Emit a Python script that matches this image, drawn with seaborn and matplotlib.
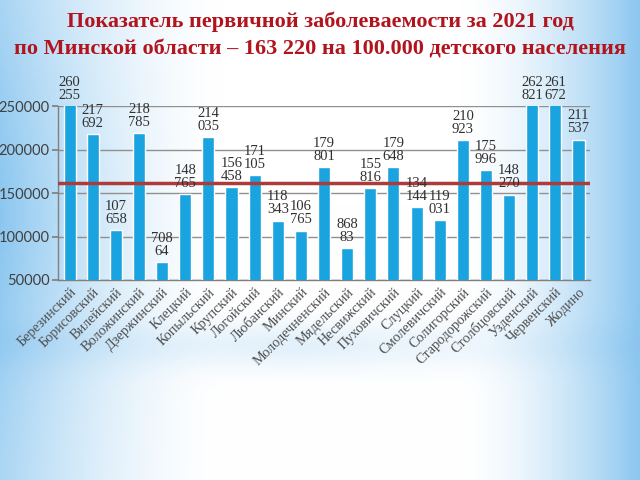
import numpy as np
import pandas as pd
import matplotlib
matplotlib.use("Agg")
import matplotlib.pyplot as plt
import seaborn as sns

districts = ["Березинский", "Борисовский", "Вилейский", "Воложинский", "Дзержинский",
             "Клецкий", "Копыльский", "Крупский", "Логойский", "Любанский", "Минский",
             "Молодечненский", "Мядельский", "Несвижский", "Пуховичский", "Слуцкий",
             "Смолевичский", "Солигорский", "Стародорожский", "Столбцовский",
             "Узденский", "Червенский", "Жодино"]
values = [260255, 217692, 107658, 218785, 70864, 148765, 214035, 156458, 171105,
          118343, 106765, 179801, 86883, 155816, 179648, 134144, 119031, 210923,
          175996, 148270, 262821, 261672, 211537]
value_labels = ["260\n255", "217\n692", "107\n658", "218\n785", "708\n64", "148\n765",
                "214\n035", "156\n458", "171\n105", "118\n343", "106\n765", "179\n801",
                "868\n83", "155\n816", "179\n648", "134\n144", "119\n031", "210\n923",
                "175\n996", "148\n270", "262\n821", "261\n672", "211\n537"]
reference_level = 161000
y_ticks = [50000, 100000, 150000, 200000, 250000]
title = ("Показатель первичной заболеваемости за 2021 год\n"
         "по Минской области – 163 220 на 100.000 детского населения")

df = pd.DataFrame({"district": districts, "value": values})

sns.set_theme(style="white")
fig = plt.figure(figsize=(6.4, 4.8), dpi=100)

# background gradient
bg = fig.add_axes([0, 0, 1, 1], zorder=-10)
xx = np.linspace(0, 1, 320)
yy = np.linspace(0, 1, 240)
X, Y = np.meshgrid(xx, yy)
left = np.clip(1 - X / 0.35, 0, 1) ** 1.6 * (0.7 + 0.3 * np.exp(-((Y - 0.45) / 0.35) ** 2))
right = np.clip((X - 0.72) / 0.28, 0, 1) ** 1.6
band = np.exp(-((Y - 0.72) / 0.05) ** 2) * 0.25 * np.clip(1 - np.abs(X - 0.45) * 1.5, 0, 1)
t = np.clip(left + right + band, 0, 1)
c_white = np.array([1.0, 1.0, 1.0])
c_blue = np.array([0.55, 0.78, 0.94])
img = c_white[None, None, :] * (1 - t[..., None]) + c_blue[None, None, :] * t[..., None]
bg.imshow(img, aspect="auto", extent=[0, 1, 0, 1], origin="upper")
bg.axis("off")

ax = fig.add_axes([0.0906, 0.4167, 0.8314, 0.3623])
ax.set_facecolor("none")
sns.barplot(data=df, x="district", y="value", color="#19a3df", saturation=1,
            width=0.52, ax=ax, zorder=3)
ax.set_ylim(50000, 250000)
ax.set_xlim(-0.5, len(districts) - 0.5)
ax.set_yticks(y_ticks)
ax.set_yticklabels([str(v) for v in y_ticks], fontsize=10.5, color="#404040",
                   family="Lato")
ax.yaxis.grid(True, color="#909090", linewidth=1, zorder=0)
ax.set_axisbelow(True)
ax.axhline(reference_level, color="#ac3b3b", linewidth=2.5, zorder=4)

for i, (v, lab) in enumerate(zip(values, value_labels)):
    ax.annotate(lab, (i, min(v, 250000)), xytext=(0, 3), textcoords="offset points",
                ha="center", va="bottom", fontsize=10.5, color="#303030",
                family="Liberation Serif", linespacing=1.0, annotation_clip=False,
                zorder=5)

ax.set_xticks(range(len(districts)))
ax.set_xticklabels(districts, rotation=45, ha="right", rotation_mode="anchor",
                   fontsize=10.3, color="#505050", family="Liberation Serif")
ax.tick_params(axis="x", length=0, pad=4)
ax.set_xticks(np.arange(-0.5, len(districts)), minor=True)
ax.tick_params(axis="x", which="minor", length=4, color="#808080", direction="out")
ax.tick_params(axis="y", length=4, color="#808080", left=True, pad=2)
ax.set_xlabel("")
ax.set_ylabel("")
for s in ["top", "right"]:
    ax.spines[s].set_visible(False)
for s in ["left", "bottom"]:
    ax.spines[s].set_color("#808080")
    ax.spines[s].set_linewidth(1)

fig.text(0.5, 0.925, title, ha="center", va="center", fontsize=16,
         fontweight="bold", color="#b2141e", family="Liberation Serif",
         linespacing=1.5)

fig.savefig("out.png", dpi=100)
